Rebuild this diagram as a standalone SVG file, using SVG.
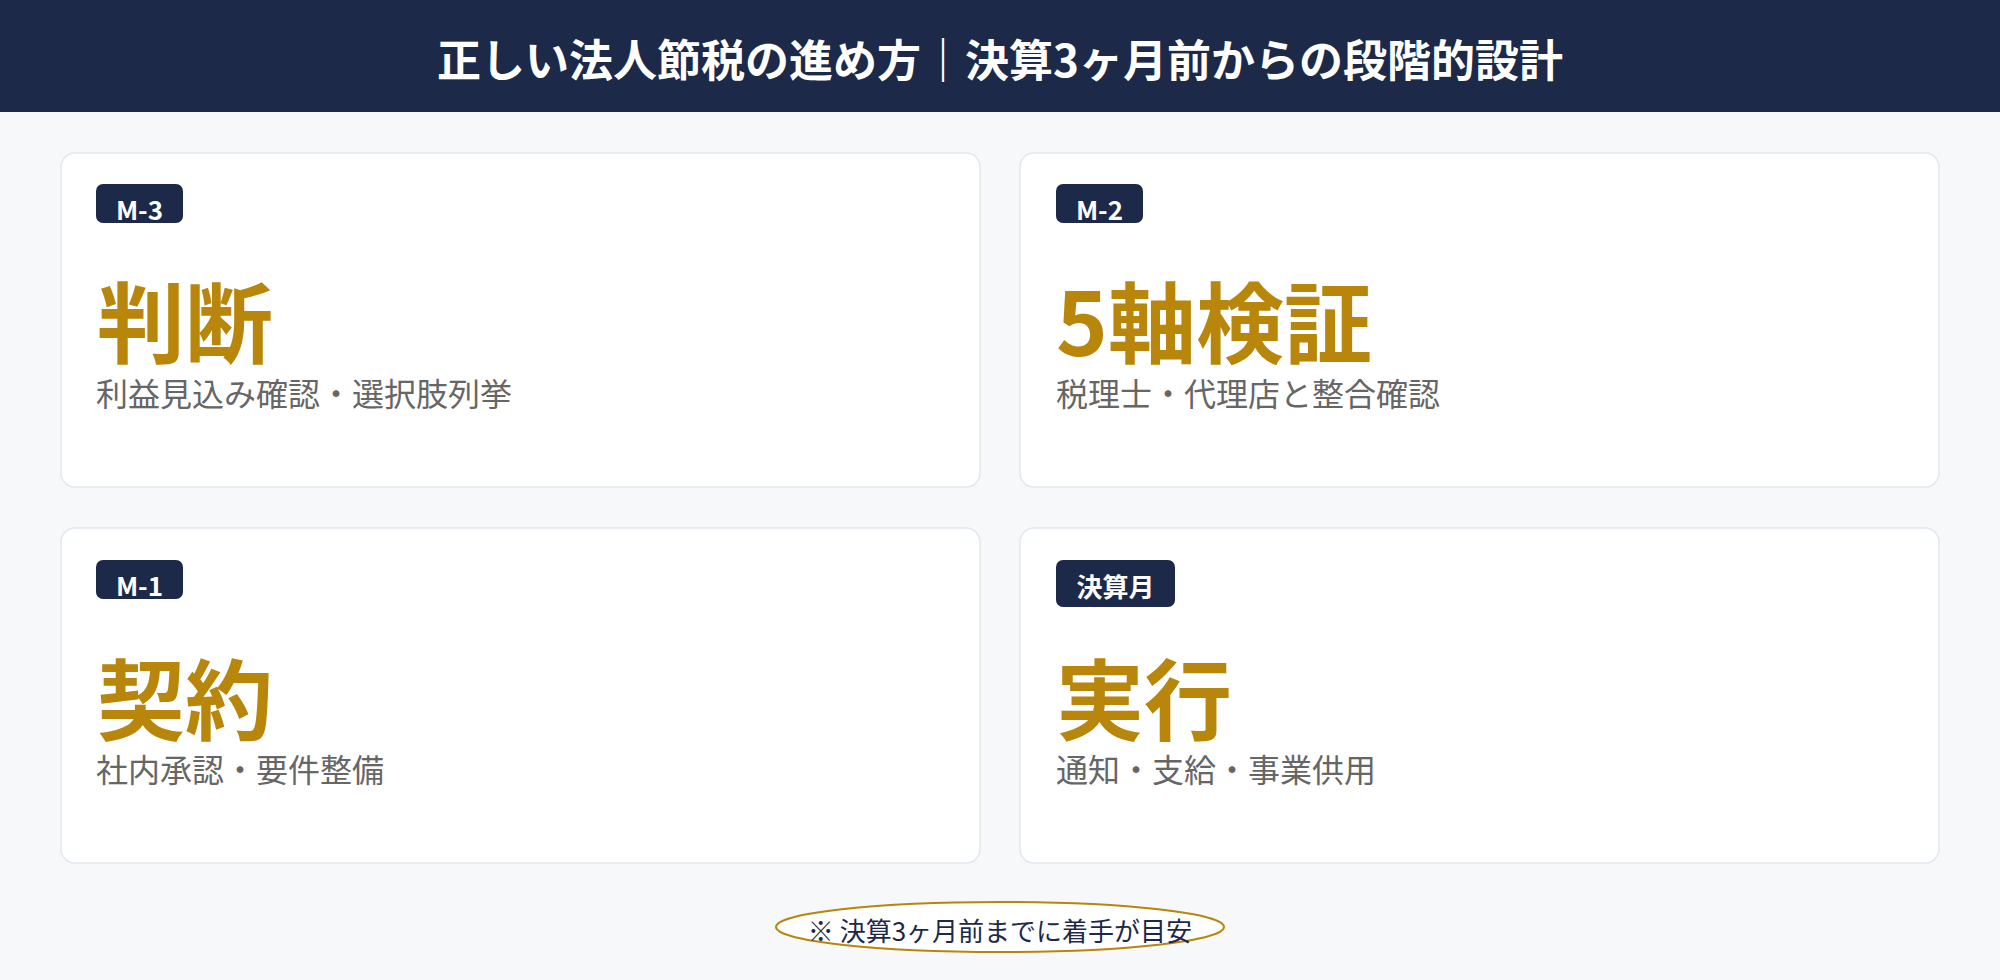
<svg xmlns="http://www.w3.org/2000/svg" width="2000" height="980" viewBox="0 0 2000 980">
<style>
text{font-family:"Noto Sans CJK JP","Noto Sans",sans-serif}
.card{fill:#ffffff;stroke:#e2e8f0;stroke-width:1.5}
.badge{fill:#1c2949}
.btxt{fill:#ffffff;font-size:26px;font-weight:700;text-anchor:middle}
.ttl{fill:#b8860b;font-size:88px;font-weight:700}
.sub{fill:#666666;font-size:32px;font-weight:400}
</style>
<rect x="0" y="0" width="2000" height="980" fill="#f7f8fa"/>
<g id="header">
<rect x="0" y="0" width="2000" height="112" fill="#1c2949"/>
<text x="1000" y="77" fill="#ffffff" font-size="44" font-weight="700" text-anchor="middle">正しい法人節税の進め方｜決算3ヶ月前からの段階的設計</text>
</g>
<g id="card-m3">
<rect class="card" x="61" y="153" width="919" height="334" rx="14"/>
<rect class="badge" x="96" y="184" width="87" height="39" rx="7"/>
<text class="btxt" x="139.5" y="220">M-3</text>
<text class="ttl" x="97" y="356">判断</text>
<text class="sub" x="96" y="406">利益見込み確認・選択肢列挙</text>
</g>
<g id="card-m2">
<rect class="card" x="1020" y="153" width="919" height="334" rx="14"/>
<rect class="badge" x="1056" y="184" width="87" height="39" rx="7"/>
<text class="btxt" x="1099.5" y="220">M-2</text>
<text class="ttl" x="1056" y="356">5軸検証</text>
<text class="sub" x="1056" y="406">税理士・代理店と整合確認</text>
</g>
<g id="card-m1">
<rect class="card" x="61" y="528" width="919" height="335" rx="14"/>
<rect class="badge" x="96" y="560" width="87" height="39" rx="7"/>
<text class="btxt" x="139.5" y="596">M-1</text>
<text class="ttl" x="97" y="733">契約</text>
<text class="sub" x="96" y="782">社内承認・要件整備</text>
</g>
<g id="card-m0">
<rect class="card" x="1020" y="528" width="919" height="335" rx="14"/>
<rect class="badge" x="1056" y="560" width="119" height="47" rx="7"/>
<text class="btxt" x="1115.5" y="597">決算月</text>
<text class="ttl" x="1056" y="733">実行</text>
<text class="sub" x="1056" y="782">通知・支給・事業供用</text>
</g>
<g id="connectors"></g>
<g id="note">
<ellipse cx="1000" cy="927" rx="224" ry="25" fill="#ffffff" stroke="#b8860b" stroke-width="2"/>
<text x="1000" y="941" fill="#1c2949" font-size="26" text-anchor="middle">※ 決算3ヶ月前までに着手が目安</text>
</g>
</svg>
